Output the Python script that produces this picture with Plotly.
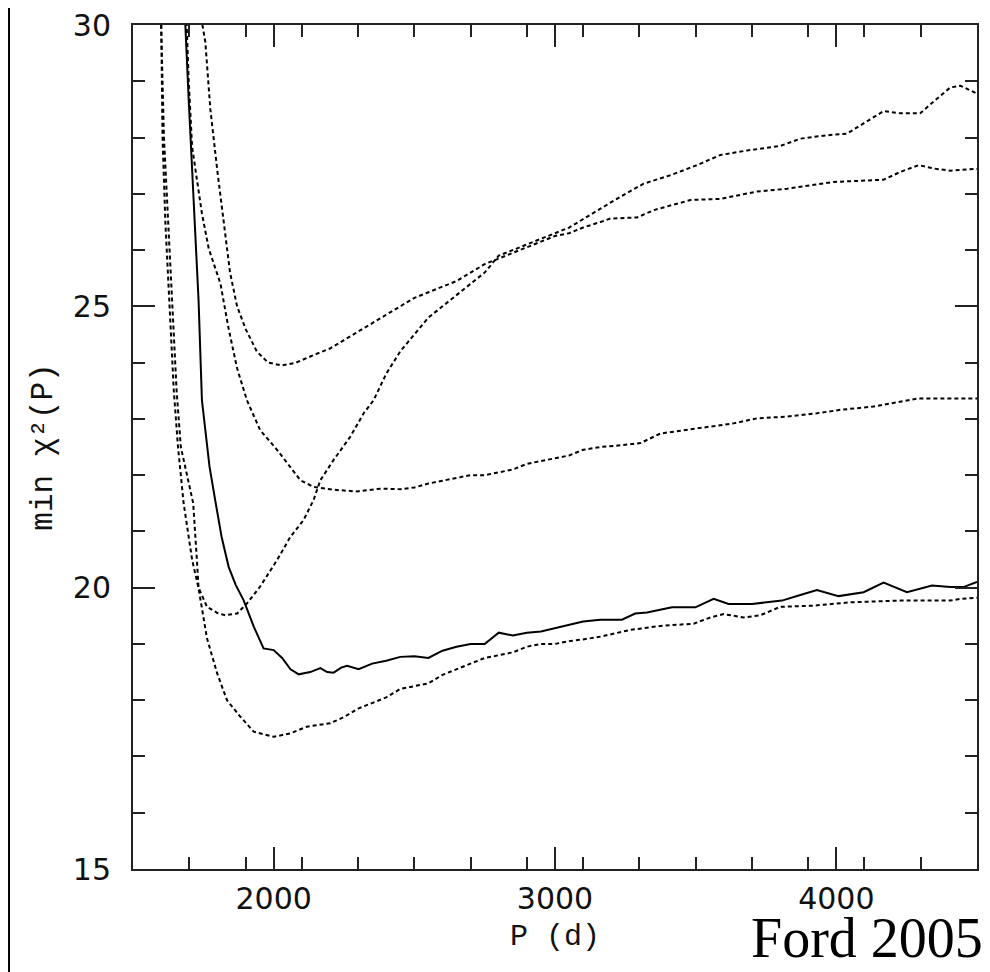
import plotly.graph_objects as go

# ---- data ----
solid_p = [1680, 1686, 1698, 1713, 1719, 1727, 1733, 1745, 1772, 1792, 1815, 1840, 1865, 1893, 1930, 1964,
           2000, 2030, 2060, 2089, 2130, 2166, 2190, 2213, 2240, 2261, 2302, 2350, 2400, 2450, 2500, 2550,
           2600, 2650, 2700, 2750, 2800, 2850, 2900, 2950, 3000, 3050, 3100, 3161, 3238, 3285, 3327, 3416,
           3499, 3564, 3617, 3700, 3807, 3872, 3931, 4008, 4097, 4168, 4251, 4340, 4405, 4452, 4494, 4500]
solid_chi = [30.5, 30.0, 28.67, 27.24, 26.53, 25.82, 25.11, 23.33, 22.15, 21.56, 20.9, 20.37, 20.05, 19.78, 19.3, 18.92,
             18.89, 18.75, 18.55, 18.46, 18.5, 18.57, 18.5, 18.49, 18.58, 18.61, 18.55, 18.65, 18.7, 18.77, 18.78, 18.75,
             18.88, 18.95, 19.0, 19.0, 19.2, 19.15, 19.2, 19.22, 19.28, 19.35, 19.4, 19.43, 19.43, 19.54, 19.56, 19.65,
             19.65, 19.80, 19.71, 19.71, 19.77, 19.87, 19.96, 19.85, 19.92, 20.09, 19.92, 20.04, 20.01, 20.01, 20.09, 20.1]

a_p = [1598, 1600, 1605, 1615, 1630, 1645, 1660, 1680, 1710, 1733, 1763, 1799, 1834, 1881, 1929, 2000, 2059,
       2118, 2201, 2250, 2300, 2350, 2400, 2450, 2500, 2550, 2600, 2650, 2700, 2750, 2800, 2850, 2900, 2950,
       3000, 3050, 3100, 3162, 3268, 3375, 3493, 3552, 3599, 3670, 3730, 3801, 3919, 4049, 4228, 4405, 4441,
       4488, 4500]
a_chi = [31, 30, 28, 26.5, 25, 23.5, 22.5, 21.5, 20.5, 19.99, 19.1, 18.48, 18.0, 17.71, 17.44, 17.35, 17.41,
         17.53, 17.59, 17.7, 17.85, 17.95, 18.05, 18.2, 18.25, 18.3, 18.45, 18.55, 18.65, 18.75, 18.8, 18.85, 18.95, 19.0,
         19.0, 19.05, 19.08, 19.13, 19.25, 19.32, 19.36, 19.47, 19.53, 19.47, 19.51, 19.66, 19.68, 19.74, 19.77, 19.77, 19.80,
         19.81, 19.82]

b_p = [1597, 1600, 1610, 1625, 1640, 1655, 1670, 1714, 1727, 1733, 1763, 1800, 1828, 1870, 1905, 1952, 2012,
       2059, 2106, 2142, 2166, 2213, 2272, 2320, 2355, 2400, 2450, 2500, 2550, 2600, 2650, 2700, 2750, 2800,
       2850, 2900, 2950, 3000, 3050, 3100, 3162, 3233, 3315, 3410, 3505, 3588, 3683, 3801, 3872, 3967, 4038,
       4097, 4168, 4228, 4298, 4346, 4405, 4441, 4488, 4500]
b_chi = [31, 30, 28, 26.5, 25, 23.5, 22.5, 21.5, 20.5, 20.0, 19.66, 19.55, 19.51, 19.54, 19.72, 20.02, 20.49,
         20.9, 21.2, 21.56, 21.91, 22.27, 22.68, 23.1, 23.33, 23.8, 24.2, 24.5, 24.8, 25.0, 25.2, 25.4, 25.6, 25.9,
         26.0, 26.1, 26.2, 26.3, 26.4, 26.55, 26.74, 26.95, 27.18, 27.33, 27.51, 27.69, 27.77, 27.85, 27.98, 28.04, 28.07,
         28.25, 28.47, 28.43, 28.43, 28.64, 28.89, 28.92, 28.81, 28.78]

c_p = [1738, 1740, 1757, 1775, 1800, 1820, 1845, 1870, 1900, 1940, 1980, 2030, 2080, 2150, 2200, 2250, 2300,
       2350, 2400, 2450, 2500, 2550, 2600, 2650, 2700, 2750, 2800, 2850, 2900, 2950, 3000, 3050, 3100, 3162,
       3197, 3292, 3351, 3482, 3588, 3718, 3825, 3990, 4168, 4228, 4293, 4346, 4405, 4488, 4500]
c_chi = [30.5, 30.2, 29.7, 28.5, 27.4, 26.6, 25.6, 25.0, 24.6, 24.2, 24.0, 23.95, 24.0, 24.15, 24.25, 24.4, 24.55,
         24.7, 24.85, 25.0, 25.15, 25.25, 25.35, 25.45, 25.6, 25.75, 25.85, 25.95, 26.05, 26.15, 26.25, 26.3, 26.4, 26.5,
         26.56, 26.58, 26.71, 26.89, 26.91, 27.04, 27.09, 27.21, 27.25, 27.39, 27.51, 27.45, 27.41, 27.44, 27.44]

d_p = [1685, 1690, 1698, 1710, 1727, 1745, 1769, 1811, 1840, 1870, 1905, 1952, 2012, 2095, 2142, 2213, 2296,
       2379, 2450, 2500, 2550, 2600, 2650, 2700, 2750, 2800, 2850, 2900, 2950, 3000, 3050, 3100, 3162, 3233,
       3304, 3375, 3457, 3552, 3635, 3718, 3825, 3931, 4014, 4132, 4228, 4287, 4500]
d_chi = [30.8, 30.0, 29.02, 27.84, 27.24, 26.65, 26.03, 25.4, 24.6, 23.9, 23.33, 22.8, 22.45, 21.91, 21.79, 21.74, 21.71,
         21.76, 21.75, 21.78, 21.85, 21.9, 21.95, 22.0, 22.0, 22.05, 22.1, 22.2, 22.25, 22.3, 22.35, 22.45, 22.5, 22.53,
         22.57, 22.74, 22.8, 22.86, 22.92, 23.01, 23.04, 23.10, 23.16, 23.22, 23.31, 23.36, 23.36]

x_ticks = [2000, 3000, 4000]
y_ticks = [15, 20, 25, 30]

# ---- figure ----
fig = go.Figure()
dot_style = dict(color="black", width=2, dash="4px,3px")
for px_, py_ in [(a_p, a_chi), (b_p, b_chi), (c_p, c_chi), (d_p, d_chi)]:
    fig.add_trace(go.Scatter(x=px_, y=py_, mode="lines", line=dot_style, showlegend=False))
fig.add_trace(go.Scatter(x=solid_p, y=solid_chi, mode="lines",
                         line=dict(color="black", width=2), showlegend=False))

tick_font = dict(family="DejaVu Sans", size=30, color="#111")
axis_common = dict(showgrid=False, zeroline=False, showline=True, linecolor="#222", linewidth=2,
                   mirror="ticks", ticks="inside", tickcolor="#222", tickwidth=2, ticklen=22,
                   tickfont=tick_font, ticklabeloverflow="allow", automargin=False)

fig.update_xaxes(range=[1500, 4500], tickvals=x_ticks, ticktext=[str(v) for v in x_ticks],
                 minor=dict(ticks="inside", ticklen=12, dtick=200, tick0=1500, tickcolor="#222", tickwidth=2),
                 ticklabelstandoff=2,
                 title=dict(text="P (d)", font=dict(family="Liberation Mono", size=30, color="#111"), standoff=9),
                 **axis_common)
fig.update_yaxes(range=[15, 30], tickvals=y_ticks, ticktext=[str(v) for v in y_ticks],
                 minor=dict(ticks="inside", ticklen=12, dtick=1, tickcolor="#222", tickwidth=2),
                 ticklabelstandoff=14,
                 title=dict(text="min χ²(P)", font=dict(family="Liberation Mono", size=31, color="#111"), standoff=11),
                 **axis_common)

fig.add_annotation(text="Ford 2005", xref="paper", yref="paper", x=1.0095, y=-0.1209,
                   xanchor="right", yanchor="bottom", showarrow=False,
                   font=dict(family="Liberation Serif", size=56, color="black"))

fig.add_shape(type="line", xref="paper", yref="paper", x0=-0.1469, x1=-0.1469, y0=-0.122, y1=1.0201,
              line=dict(color="black", width=2))

# The page adds an 8px body margin; the figure is sized so that it ends exactly at the window edge
# and the plot box sits where the reference has it.
fig.update_layout(width=982, height=964, margin=dict(l=125, r=13, t=17, b=103, autoexpand=False),
                  plot_bgcolor="white", paper_bgcolor="white")

fig.write_html("out.html")
